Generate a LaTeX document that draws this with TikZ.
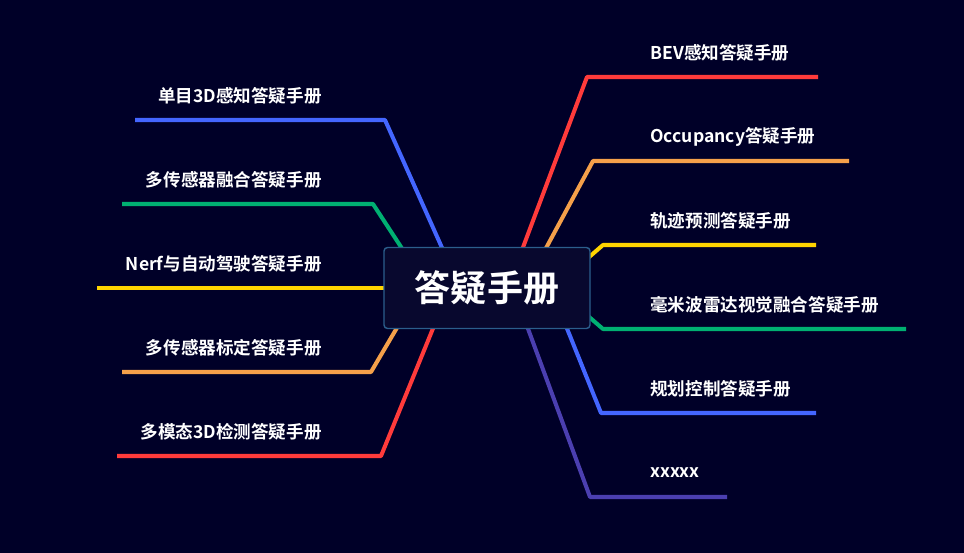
\documentclass[tikz,border=0pt]{standalone}
\usepackage{fontspec}
\setmainfont{Noto Sans CJK SC}[BoldFont={Noto Sans CJK SC Bold}]
\definecolor{bg}{HTML}{000028}
\definecolor{boxfill}{HTML}{08082E}
\definecolor{boxline}{HTML}{2B5E8C}
\definecolor{cred}{HTML}{FF3B3B}
\definecolor{corange}{HTML}{F5A04A}
\definecolor{cyellow}{HTML}{FFD400}
\definecolor{cgreen}{HTML}{00B072}
\definecolor{cblue}{HTML}{4466FF}
\definecolor{cpurple}{HTML}{4B3FB0}
\tikzset{
  branch/.style={line width=2.3pt,line join=round},
  leaf/.style={text=white,font=\bfseries\fontsize{10}{11}\selectfont,inner sep=0pt},
}
\begin{document}
\begin{tikzpicture}[x=0.02cm,y=-0.02cm]
                            % Background
                            \fill[bg] (0,0) rectangle (964,553);

                            % Bends
                            \coordinate (r1) at (587,77);  \coordinate (r1e) at (818,77);
                            \coordinate (r2) at (593,161); \coordinate (r2e) at (849,161);
                            \coordinate (r3) at (603,245); \coordinate (r3e) at (816,245);
                            \coordinate (r4) at (603,329); \coordinate (r4e) at (906,329);
                            \coordinate (r5) at (601,413); \coordinate (r5e) at (816,413);
                            \coordinate (r6) at (590,497); \coordinate (r6e) at (727,497);
                            \coordinate (l1) at (385,120); \coordinate (l1e) at (135,120);
                            \coordinate (l2) at (373,204); \coordinate (l2e) at (122,204);
                            \coordinate (l3) at (384,288); \coordinate (l3e) at (97,288);
                            \coordinate (l4) at (371,372); \coordinate (l4e) at (122,372);
                            \coordinate (l5) at (381,456); \coordinate (l5e) at (117,456);

                            % Branches
                            \draw[branch,cred]    (522,250) -- (r1) -- (r1e);
                            \draw[branch,corange] (545,250) -- (r2) -- (r2e);
                            \draw[branch,cyellow] (588,258) -- (r3) -- (r3e);
                            \draw[branch,cgreen]  (588,316) -- (r4) -- (r4e);
                            \draw[branch,cblue]   (566,326) -- (r5) -- (r5e);
                            \draw[branch,cpurple] (527,326) -- (r6) -- (r6e);
                            \draw[branch,cblue]   (443,250) -- (l1) -- (l1e);
                            \draw[branch,cgreen]  (403,250) -- (l2) -- (l2e);
                            \draw[branch,cyellow] (l3) -- (l3e);
                            \draw[branch,corange] (398,326) -- (l4) -- (l4e);
                            \draw[branch,cred]    (434,326) -- (l5) -- (l5e);

                            % Root
                            \node[draw=boxline,fill=boxfill,rounded corners=2pt,line width=0.8pt,
                                  minimum width=206*0.02cm,minimum height=81*0.02cm,
                                  text=white,font=\bfseries\fontsize{20.5}{23}\selectfont]
                                  (root) at (487,288) {答疑手册};

                            % Leaves
                            \node[leaf,anchor=west] (bev)  at (650,53)  {BEV感知答疑手册};
                            \node[leaf,anchor=west] (occ)  at (650,137) {Occupancy答疑手册};
                            \node[leaf,anchor=west] (traj) at (650,221) {轨迹预测答疑手册};
                            \node[leaf,anchor=west] (mmw)  at (650,305) {毫米波雷达视觉融合答疑手册};
                            \node[leaf,anchor=west] (plan) at (650,389) {规划控制答疑手册};
                            \node[leaf,anchor=west] (xx)   at (650,473) {xxxxx};
                            \node[leaf,anchor=east] (mono) at (322,96)  {单目3D感知答疑手册};
                            \node[leaf,anchor=east] (fus)  at (322,180) {多传感器融合答疑手册};
                            \node[leaf,anchor=east] (nerf) at (322,264) {Nerf与自动驾驶答疑手册};
                            \node[leaf,anchor=east] (cal)  at (322,348) {多传感器标定答疑手册};
                            \node[leaf,anchor=east] (det)  at (322,432) {多模态3D检测答疑手册};
                      \end{tikzpicture}
\end{document}
